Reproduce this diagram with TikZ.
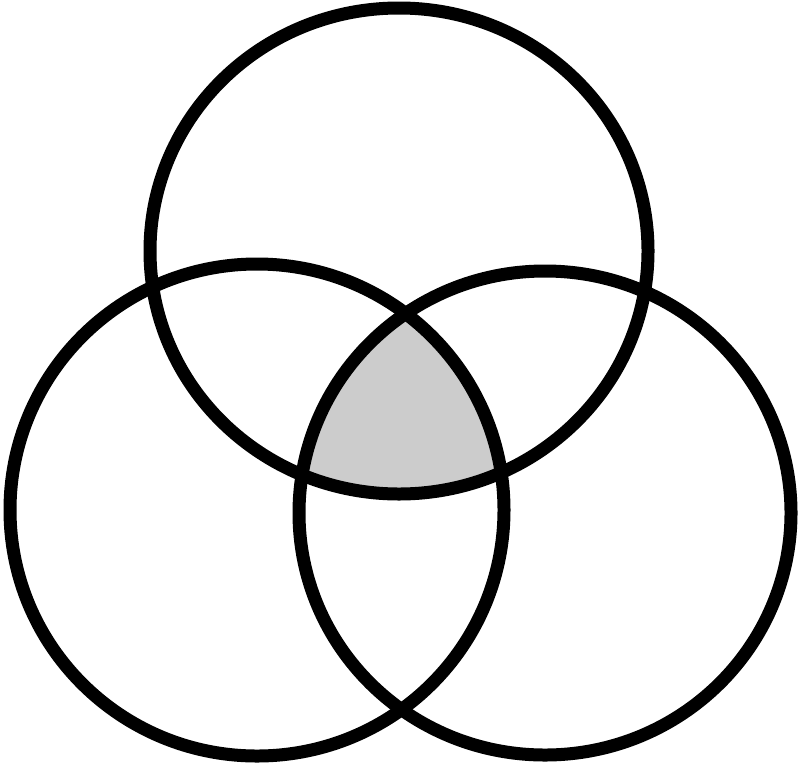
\documentclass[tikz,border=0pt]{standalone}
\definecolor{venngray}{RGB}{204,204,204}
\begin{document}
\begin{tikzpicture}[x=0.02cm,y=-0.02cm,
	ring/.style={draw=black, line width=0.26cm}]
	\useasboundingbox (0,0) rectangle (800,764);

	\coordinate (top) at (399,251);
	\coordinate (left) at (257,510);
	\coordinate (right) at (545,513);

	% wspolna czesc
	\begin{scope}
		\clip (top) ellipse [x radius=249, y radius=243];
		\clip (left) ellipse [x radius=247, y radius=246];
		\fill[fill=venngray] (right) ellipse [x radius=246, y radius=242];
	\end{scope}

	\draw[ring] (top) ellipse [x radius=249, y radius=243];
	\draw[ring] (left) ellipse [x radius=247, y radius=246];
	\draw[ring] (right) ellipse [x radius=246, y radius=242];
\end{tikzpicture}
\end{document}
